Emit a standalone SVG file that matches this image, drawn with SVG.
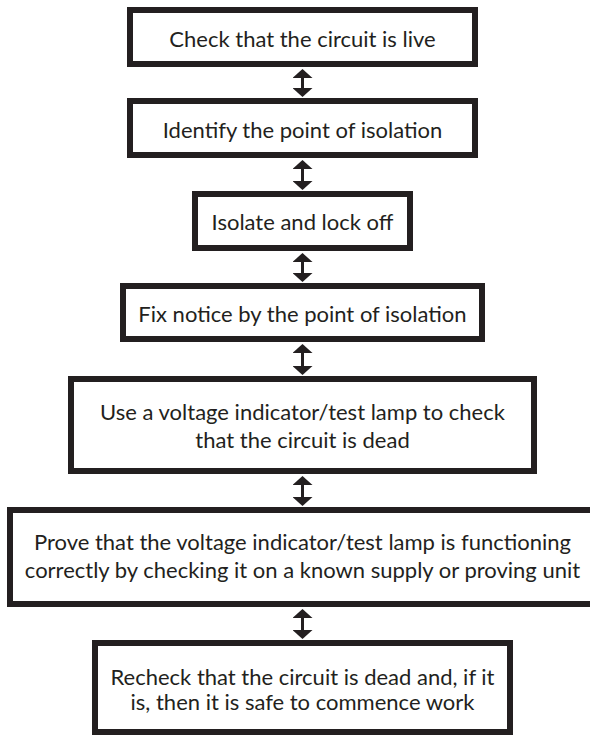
<svg xmlns="http://www.w3.org/2000/svg" width="590" height="735" viewBox="0 0 590 735">
  <style>
    .box { fill: #ffffff; stroke: #231f20; stroke-width: 6; }
    .label { font-family: Lato, "Open Sans", "DejaVu Sans", sans-serif; font-size: 22px; fill: #231f20; text-anchor: middle; }
    .link { stroke: #231f20; stroke-width: 3; fill: none; marker-start: url(#head); marker-end: url(#head); }
  </style>
  <defs>
    <marker id="head" viewBox="0 -10 9 20" refX="0" refY="0" markerWidth="9" markerHeight="20" markerUnits="userSpaceOnUse" orient="auto-start-reverse">
      <path d="M0,-10 L9,0 L0,10 z" fill="#231f20"/>
    </marker>
  </defs>
  <rect width="590" height="735" fill="#ffffff"/>

  <g id="connectors">
    <line class="link" x1="302.5" y1="78" x2="302.5" y2="88"/>
    <line class="link" x1="302.5" y1="169" x2="302.5" y2="181"/>
    <line class="link" x1="302.5" y1="262" x2="302.5" y2="273"/>
    <line class="link" x1="302.5" y1="353" x2="302.5" y2="366"/>
    <line class="link" x1="302.5" y1="485" x2="302.5" y2="497"/>
    <line class="link" x1="302.5" y1="618" x2="302.5" y2="630"/>
  </g>

  <g id="step1">
    <rect class="box" x="130" y="10" width="345" height="54"/>
    <text class="label" x="302.5" y="47">Check that the circuit is live</text>
  </g>
  <g id="step2">
    <rect class="box" x="130" y="101" width="345" height="54"/>
    <text class="label" x="302.5" y="138">Identify the point of isolation</text>
  </g>
  <g id="step3">
    <rect class="box" x="195" y="194" width="215" height="54"/>
    <text class="label" x="302.5" y="230">Isolate and lock off</text>
  </g>
  <g id="step4">
    <rect class="box" x="123" y="286" width="359" height="53"/>
    <text class="label" x="302.5" y="322">Fix notice by the point of isolation</text>
  </g>
  <g id="step5">
    <rect class="box" x="71" y="379" width="463" height="92"/>
    <text class="label" x="302.5" y="420">Use a voltage indicator/test lamp to check</text>
    <text class="label" x="302.5" y="448">that the circuit is dead</text>
  </g>
  <g id="step6">
    <rect class="box" x="10" y="510" width="585" height="94"/>
    <text class="label" x="302.5" y="550">Prove that the voltage indicator/test lamp is functioning</text>
    <text class="label" x="302.5" y="578">correctly by checking it on a known supply or proving unit</text>
  </g>
  <g id="step7">
    <rect class="box" x="95" y="643" width="415" height="89"/>
    <text class="label" x="302.5" y="685">Recheck that the circuit is dead and, if it</text>
    <text class="label" x="302.5" y="710">is, then it is safe to commence work</text>
  </g>
</svg>
